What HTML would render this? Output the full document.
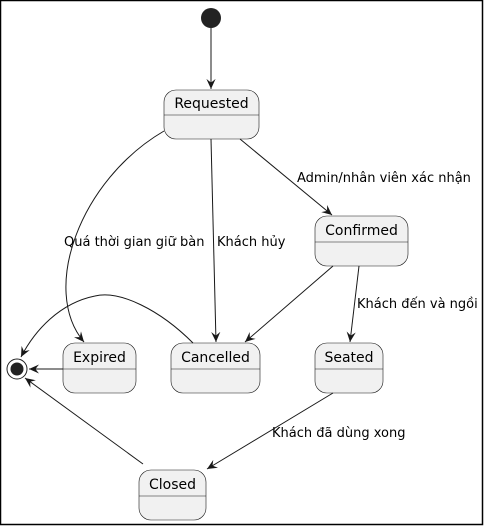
<!DOCTYPE html>
<html><head><meta charset="utf-8"><style>
html,body{margin:0;padding:0;background:#fff}
svg{display:block}
text{font-family:"DejaVu Sans","Liberation Sans",sans-serif;font-size:13px;fill:#000}
text.s{font-size:14px}
</style></head><body>
<svg width="484" height="526" viewBox="0 0 484 526" xmlns="http://www.w3.org/2000/svg">
<defs>
<marker id="a" viewBox="0 0 12 10" refX="11" refY="5" markerWidth="11" markerHeight="10" orient="auto" markerUnits="userSpaceOnUse">
<path d="M0,0 L11,5 L0,10 L4,5 Z" fill="#181818"/>
</marker>
</defs>
<rect x="0.5" y="0.5" width="482" height="524" fill="#fff" stroke="#000" stroke-width="1.5"/>
<g fill="#F1F1F1" stroke="#181818" stroke-width="0.6">
<rect x="164" y="90" width="95" height="49" rx="12"/>
<line x1="164" y1="115" x2="259" y2="115"/>
<rect x="315" y="216" width="93" height="50" rx="12"/>
<line x1="315" y1="242" x2="408" y2="242"/>
<rect x="63" y="343" width="73" height="50" rx="12"/>
<line x1="63" y1="369" x2="136" y2="369"/>
<rect x="171" y="343" width="89" height="50" rx="12"/>
<line x1="171" y1="369" x2="260" y2="369"/>
<rect x="315" y="343" width="68" height="50" rx="12"/>
<line x1="315" y1="369" x2="383" y2="369"/>
<rect x="139" y="470" width="67" height="50" rx="12"/>
<line x1="139" y1="496" x2="206" y2="496"/>
</g>
<circle cx="211" cy="18" r="10" fill="#222"/>
<circle cx="17" cy="369" r="10" fill="#fff" stroke="#222" stroke-width="1"/>
<circle cx="17" cy="369" r="6.5" fill="#222"/>
<g fill="none" stroke="#181818" stroke-width="1" marker-end="url(#a)">
<path d="M211,28 L211,89"/>
<path d="M164,131 C80,180 40,290 84,342"/>
<path d="M211,139 L216,342"/>
<path d="M240,139 L332,215"/>
<path d="M333,266 L245,342"/>
<path d="M359,266 L350,342"/>
<path d="M333,393 L207,469"/>
<path d="M193,343 C160,310 120,290 95,296 C60,303 35,330 21,357"/>
<path d="M63,369 L29,369"/>
<path d="M143,464 L25,378"/>
</g>
<text x="64" y="246">Quá thời gian giữ bàn</text>
<text x="217" y="246">Khách hủy</text>
<text x="297" y="182">Admin/nhân viên xác nhận</text>
<text x="357" y="308">Khách đến và ngồi</text>
<text x="272" y="437">Khách đã dùng xong</text>
<text class="s" x="211.5" y="108" text-anchor="middle">Requested</text>
<text class="s" x="361.5" y="235" text-anchor="middle">Confirmed</text>
<text class="s" x="99.5" y="362" text-anchor="middle">Expired</text>
<text class="s" x="215.5" y="362" text-anchor="middle">Cancelled</text>
<text class="s" x="349" y="362" text-anchor="middle">Seated</text>
<text class="s" x="172.5" y="489" text-anchor="middle">Closed</text>
</svg>
</body></html>
